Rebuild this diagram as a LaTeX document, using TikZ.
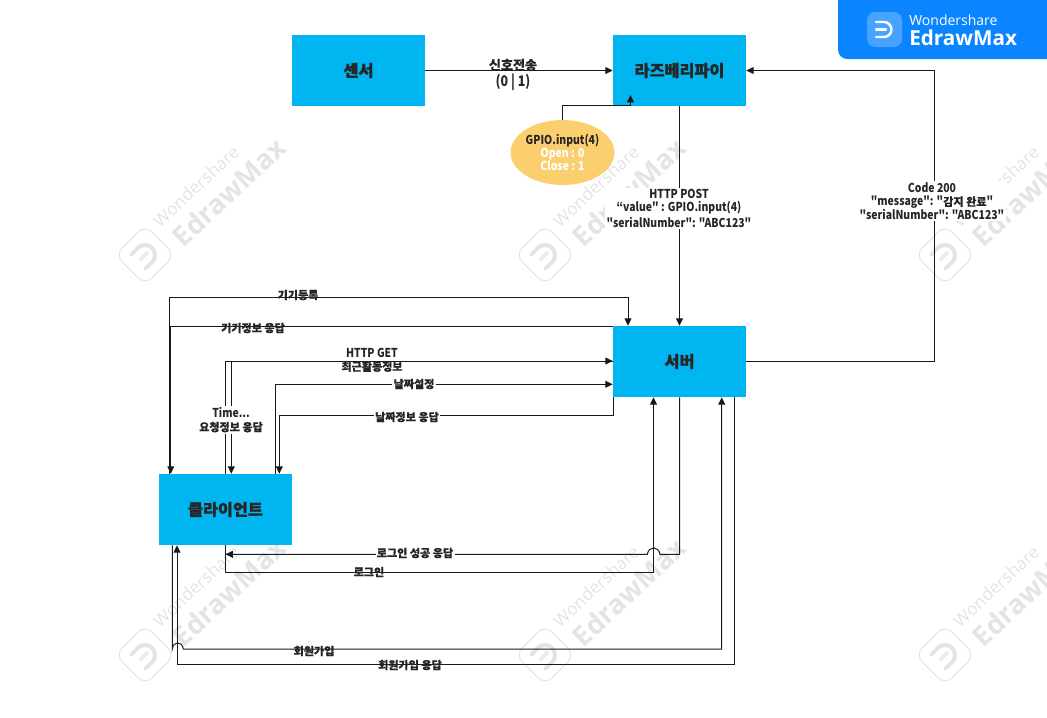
\documentclass[tikz,border=0pt]{standalone}
\usepackage{fontspec}
\newfontfamily\la{Noto Sans CJK KR}[FakeStretch=0.85]
\newfontfamily\ko{Noto Sans CJK KR}[FakeBold=0.4]
\newfontfamily\kobox{Noto Sans CJK KR}[FakeBold=1]
\newfontfamily\wmfont{Open Sans}
\usetikzlibrary{arrows.meta,shapes.geometric}
\definecolor{boxblue}{HTML}{00B5F0}
\definecolor{ellcol}{HTML}{FBCF6E}
\definecolor{banner}{HTML}{0A84FF}
\definecolor{wmgray}{HTML}{E4E4E4}
\newcommand{\kl}[1]{{\ko\fontsize{8.3}{10}\bfseries\selectfont #1}}
\newcommand{\kL}[1]{{\ko\fontsize{9.8}{10}\bfseries\selectfont #1}}
\tikzset{
  x=0.75pt,y=-0.75pt,
  proc/.style={fill=boxblue,minimum width=99.75pt,minimum height=53.25pt,inner sep=0pt,font=\kobox\fontsize{12.2}{14}\bfseries\selectfont,text=black!85},
  conn/.style={draw=black!90,line width=0.75pt,line join=miter},
  tip/.style={-{Triangle[length=5.6pt,width=5.2pt]}},
  lab/.style={font=\la\fontsize{9.2}{10}\bfseries\selectfont,align=center,text=black!85,inner sep=1pt},
  labw/.style={lab,fill=white},
  wma/.style={font=\wmfont\fontsize{13}{15}\selectfont,text=wmgray,rotate=43},
  wmb/.style={font=\wmfont\fontsize{20.5}{24}\bfseries\selectfont,text=wmgray,rotate=43},
}
\newcommand{\wmark}[2]{%
  \draw[wmgray,line width=0.8pt,rounded corners=7pt,rotate around={45:(#1,#2)}] (#1-21,#2-21) rectangle (#1+21,#2+21);
  \begin{scope}[shift={(#1,#2)},rotate=45]
  \draw[wmgray,line width=3pt,line cap=round] (-9,-10) -- (0,-10) arc[start angle=-90,end angle=90,radius=10] -- (-9,10);
  \draw[wmgray!70,line width=3pt,line cap=round] (-6,0) -- (3,0);
  \end{scope}
  \node[wma] at (#1+51,#2-69) {Wondershare};
  \node[wmb] at (#1+84,#2-63) {EdrawMax};
}
\begin{document}
\begin{tikzpicture}
\useasboundingbox (0,0) rectangle (1047,718);
% watermarks
\wmark{145}{255}\wmark{545}{255}\wmark{945}{255}
\wmark{145}{655}\wmark{545}{655}\wmark{945}{655}
% banner
\fill[banner,rounded corners=7pt] (838,-12) rectangle (1060,59);
\fill[white!25!banner,rounded corners=6pt] (867,12) rectangle (902,47);
\draw[white,line width=1.8pt,line cap=round] (876,22) -- (884,22) arc[start angle=-90,end angle=90,radius=7.5] -- (876,37);
\draw[white,line width=1.8pt,line cap=round] (876,29.5) -- (886,29.5);
\node[font=\wmfont\fontsize{10.5}{12}\selectfont,text=white,anchor=west,inner sep=0pt] at (909,20) {Wondershare};
\node[font=\wmfont\fontsize{15.5}{17}\bfseries\selectfont,text=white,anchor=west,inner sep=0pt] at (909,38) {EdrawMax};
% nodes
\node[proc] (sensor) at (358.5,70.5) {센서};
\node[proc] (pi) at (679.5,70.5) {라즈베리파이};
\node[proc] (server) at (679.5,361.5) {서버};
\node[proc] (client) at (225.5,509.5) {클라이언트};
\node[ellipse,fill=ellcol,minimum width=77.25pt,minimum height=48.75pt,inner sep=0pt,align=center,font=\la\fontsize{9.2}{9.8}\bfseries\selectfont] (gpio) at (562.5,152.5)
  {\textcolor{black!85}{GPIO.input(4)}\\ \textcolor{white}{Open : 0}\\ \textcolor{white}{Close : 1}};
% elbow coordinates
\coordinate (e1) at (562.5,105.5); \coordinate (x1) at (630.5,95);
\coordinate (e2) at (934,70.5);
\coordinate (e3) at (169.5,297); \coordinate (x3) at (628,0);
\coordinate (e4) at (170.8,326.3);
\coordinate (e5) at (225.5,361); \coordinate (e6) at (231.3,361);
\coordinate (e7) at (275.3,384.3);
\coordinate (e8) at (279.3,415.3); \coordinate (x8) at (613.5,0);
\coordinate (e9) at (679.5,554.3); \coordinate (e9b) at (660,554.3); \coordinate (e9c) at (647.3,554.3); \coordinate (t9) at (225.5,554.3);
\coordinate (e10) at (225.5,572.3); \coordinate (e10b) at (653.5,572.3);
\coordinate (e11a) at (172.3,649); \coordinate (e11b) at (183.3,649); \coordinate (e11c) at (721.7,649);
\coordinate (e12) at (734.3,664.3); \coordinate (e12b) at (177,664.3);
% connectors
\draw[conn,tip] (sensor.east) -- (pi.west);
\draw[conn,tip] (gpio.north) |- (e1) -| (x1);
\draw[conn,tip] (pi.south) -- (server.north);
\draw[conn,tip] (server.east) -| (e2) -- (pi.east);
\draw[conn,tip] (client.north -| e3) -- (e3) -| (server.north -| x3);
\draw[conn,tip] (server.north west |- e4) -- (e4) -- (client.north -| e4);
\draw[conn,tip] (client.north -| e5) -- (e5) -- (server.west |- e5);
\draw[conn,tip] (server.west |- e6) -- (e6) -- (client.north -| e6);
\draw[conn,tip] (client.north -| e7) -- (e7) -- (server.west |- e7);
\draw[conn,tip] (server.south -| x8) |- (e8) -- (client.north -| e8);
\draw[conn,tip] (server.south -| e9) -- (e9) -- (e9b) .. controls (658.5,545.8) and (648.8,545.8) .. (e9c) -- (t9);
\draw[conn,tip] (client.south -| e10) -- (e10) -- (e10b) -- (server.south -| e10b);
\draw[conn,tip] (client.south -| e11a) -- (e11a) .. controls (173.3,640.8) and (182.3,640.8) .. (e11b) -- (e11c) -- (server.south -| e11c);
\draw[conn,tip] (server.south -| e12) -- (e12) -- (e12b) -- (client.south -| e12b);
% labels
\node[lab] (l1) at (513,75) {\kL{신호전송}\\[1.5pt]{\fontsize{11}{10}\selectfont (0 | 1)}};
\node[labw] (l2) at (679,208.5) {HTTP POST\\“value" : GPIO.input(4)\\[2pt]"serialNumber": "ABC123"};
\node[labw] (l3) at (932,201) {Code 200\\"message": "\kl{감지 완료}"\\"serialNumber": "ABC123"};
\node[lab] (l4) at (298,295) {\kl{기기등록}};
\node[lab] (l5) at (253,328) {\kl{기기정보 응답}};
\node[lab] (l6) at (372,360) {HTTP GET\\\kl{최근활동정보}};
\node[labw] (l7) at (414,384) {\kl{날짜설정}};
\node[labw] (l8) at (407,417) {\kl{날짜정보 응답}};
\node[labw] (l9) at (231,420) {Time...\\\kl{요청정보 응답}};
\node[labw] (l10) at (415,553) {\kl{로그인 성공 응답}};
\node[lab] (l11) at (369,572) {\kl{로그인}};
\node[lab] (l12) at (314,651) {\kl{회원가입}};
\node[lab] (l13) at (410,665) {\kl{회원가입 응답}};
\end{tikzpicture}
\end{document}
